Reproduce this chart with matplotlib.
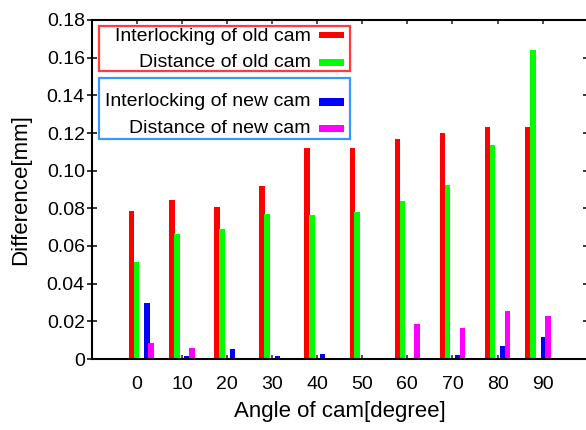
#!/usr/bin/env python3
# -*- coding: utf-8 -*-

import matplotlib
matplotlib.use("Agg")
import matplotlib.pyplot as plt
from matplotlib.patches import Rectangle


# -------------------------
# Data
# angles 0 and 90 were measured at 1 and 89 degrees
# -------------------------
angles = [1, 10, 20, 30, 40, 50, 60, 70, 80, 89]

old_interlock = [0.0786, 0.0846, 0.0809, 0.0919, 0.1120, 0.1120, 0.1170, 0.1200, 0.1232, 0.1232]
old_distance = [0.0513, 0.0664, 0.0690, 0.0772, 0.0765, 0.0781, 0.0839, 0.0924, 0.1136, 0.1640]
new_interlock = [0.0297, 0.0018, 0.0053, 0.0016, 0.0028, 0.0005, 0.0, 0.0021, 0.0067, 0.0115]
new_distance = [0.0083, 0.0060, 0.0, 0.0, 0.0, 0.0, 0.0187, 0.0165, 0.0253, 0.0228]

series_labels = [
    "Interlocking of old cam",
    "Distance of old cam",
    "Interlocking of new cam",
    "Distance of new cam",
]
series_colors = ["#ff0000", "#00ff00", "#0000ff", "#ff00ff"]

xtick_values = [0, 10, 20, 30, 40, 50, 60, 70, 80, 90]
ytick_values = [0, 0.02, 0.04, 0.06, 0.08, 0.10, 0.12, 0.14, 0.16, 0.18]
ytick_labels = ["0", "0.02", "0.04", "0.06", "0.08", "0.10", "0.12", "0.14", "0.16", "0.18"]

W, H = 586, 430


def fx(px: float) -> float:
    return px / W


def fy(py: float) -> float:
    return 1.0 - py / H


def legend_box(fig, rows, box, edge):
    """rows: list of (label, color, baseline_px, handle_top_px, handle_bottom_px)"""
    x0, y0, x1, y1 = box
    fig.patches.append(Rectangle((fx(x0), fy(y1)), fx(x1) - fx(x0), fy(y0) - fy(y1),
                                 transform=fig.transFigure, facecolor="white",
                                 edgecolor=edge, linewidth=1.6, zorder=5))
    for label, color, base, ht, hb in rows:
        fig.text(fx(310.5), fy(base), label, ha="right", va="baseline",
                 fontsize=14, zorder=6)
        fig.patches.append(Rectangle((fx(318.7), fy(hb)), fx(344.0) - fx(318.7), fy(ht) - fy(hb),
                                     transform=fig.transFigure, facecolor=color,
                                     edgecolor="none", zorder=6))


def main():
    plt.rcParams["font.family"] = ["Liberation Sans", "DejaVu Sans"]

    fig = plt.figure(figsize=(W / 100, H / 100), dpi=100)
    ax = fig.add_axes([fx(91.7), fy(359.0), (587.7 - 91.7) / W, (359.0 - 20.0) / H])

    offsets = [-2.2, -1.1, 1.2, 2.2]
    width = 1.25
    all_series = [old_interlock, old_distance, new_interlock, new_distance]
    for vals, off, col in zip(all_series, offsets, series_colors):
        ax.bar([a + off for a in angles], vals, width=width, color=col,
               edgecolor="none", linewidth=0, zorder=2)

    ax.set_xlim(-10, 100)
    ax.set_ylim(0, 0.18)
    ax.set_xticks(xtick_values)
    ax.set_xticklabels([str(v) for v in xtick_values])
    ax.set_yticks(ytick_values)
    ax.set_yticklabels(ytick_labels)

    ax.tick_params(axis="x", which="both", direction="in", length=3.0, width=1.1,
                   top=True, bottom=True, labelsize=14, pad=12, color="#222222")
    ax.tick_params(axis="y", which="both", direction="inout", length=7.0, width=1.1,
                   left=True, right=True, labelsize=14, pad=1.5)

    for side in ("left", "top", "bottom"):
        ax.spines[side].set_linewidth(1.5)
        ax.spines[side].set_color("black")
    ax.spines["right"].set_visible(False)

    ax.set_xlabel("Angle of cam[degree]", fontsize=16, labelpad=6)
    ax.set_ylabel("Difference[mm]", fontsize=16, labelpad=11)

    # two framed legend boxes, text right-aligned with swatch on the right
    legend_box(fig, [
        (series_labels[0], series_colors[0], 40.6, 31.7, 38.3),
        (series_labels[1], series_colors[1], 67.0, 59.3, 65.7),
    ], (99.0, 25.8, 349.5, 70.8), "#ff3b3b")
    legend_box(fig, [
        (series_labels[2], series_colors[2], 106.0, 98.3, 105.5),
        (series_labels[3], series_colors[3], 132.6, 125.3, 132.3),
    ], (99.0, 78.2, 349.5, 138.5), "#3399ff")

    fig.savefig("out.png", dpi=100)
    plt.close(fig)


if __name__ == "__main__":
    main()
